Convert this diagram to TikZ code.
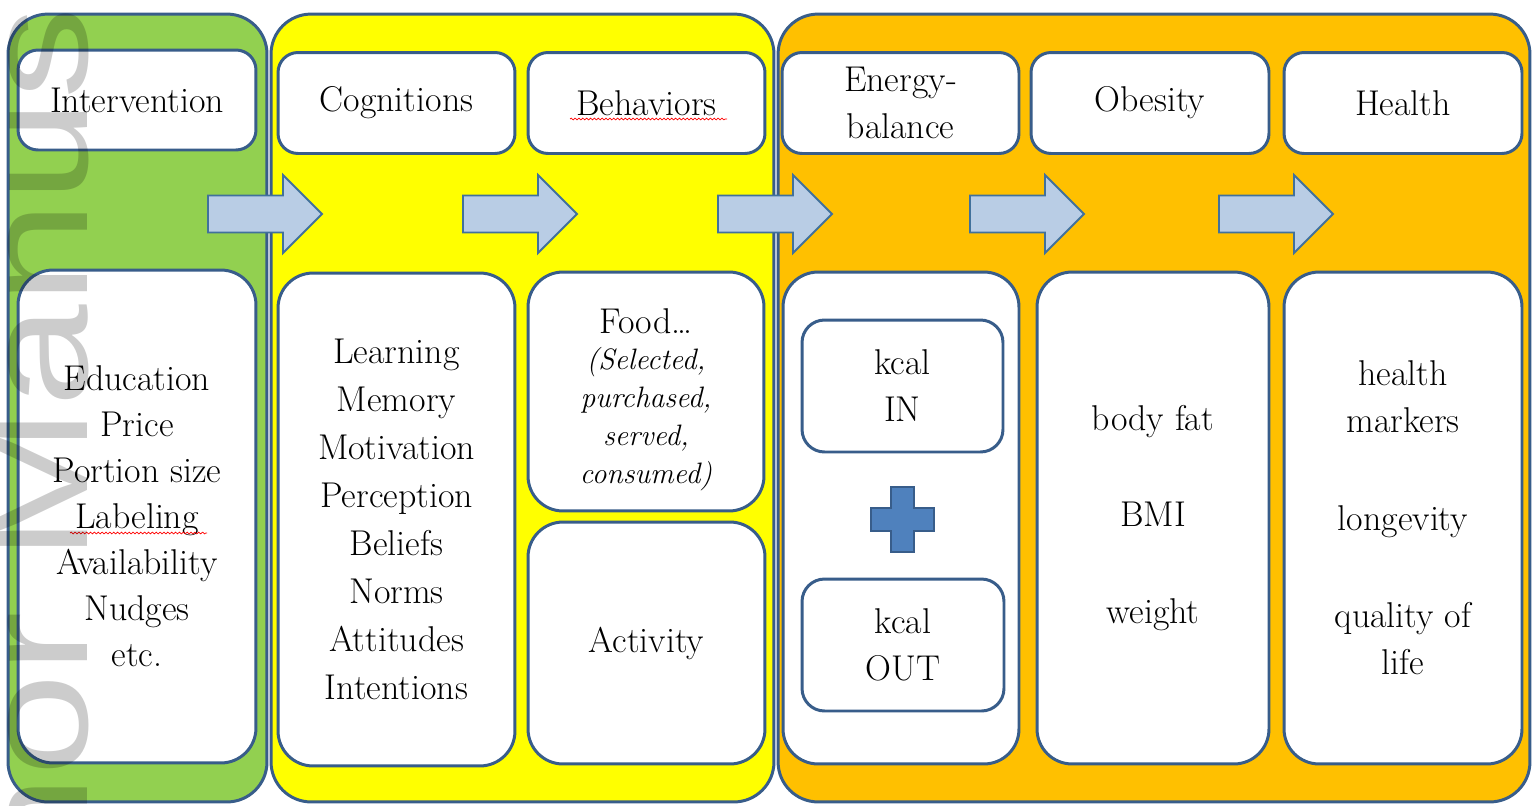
\documentclass[tikz,border=0pt]{standalone}
\usepackage{fontspec}
\setsansfont{Liberation Sans}
\usetikzlibrary{decorations.pathmorphing}

\definecolor{boxline}{RGB}{56,93,138}
\definecolor{arrowline}{RGB}{65,113,156}
\definecolor{arrowfill}{RGB}{185,205,229}
\definecolor{plusfill}{RGB}{79,129,189}
\definecolor{panelgreen}{RGB}{146,208,80}
\definecolor{panelyellow}{RGB}{255,255,0}
\definecolor{panelorange}{RGB}{255,192,0}
\newcommand{\bodysize}{\fontsize{20.4pt}{26.7pt}\selectfont}

\tikzset{
    panel/.style={draw=boxline, line width=1.7pt, rounded corners=0.8cm, minimum height=15.76cm},
    card/.style={draw=boxline, fill=white, line width=1.7pt, rounded corners=0.4cm, align=center, inner sep=0pt, font=\bodysize},
    headcard/.style={card, minimum height=2.02cm},
    listcard/.style={card, rounded corners=0.7cm, minimum height=9.86cm},
    flowarrow/.style={draw=arrowline, fill=arrowfill, line width=1.1pt, line join=miter},
    spellmark/.style={draw=red, line width=0.4pt, decorate, decoration={snake, amplitude=0.5pt, segment length=2.2pt}}
}

\begin{document}
\begin{tikzpicture}[x=0.02cm, y=-0.02cm]
    \useasboundingbox (0,0) rectangle (1533,805);
    %Panels
    \node[panel, fill=panelgreen, minimum width=5.18cm] (greenpanel) at (137.5,408) {};
    \node[panel, fill=panelyellow, minimum width=10.06cm] (yellowpanel) at (522.5,408) {};
    \node[panel, fill=panelorange, minimum width=15.04cm] (orangepanel) at (1154,408) {};
    %Headers
    \node[headcard, minimum width=4.76cm, minimum height=2cm] (intervention) at (137,100) {Intervention};
    \node[headcard, minimum width=4.74cm] (cognitions) at (396.5,103) {Cognitions};
    \node[headcard, minimum width=4.74cm] (behaviors) at (646.5,103) {Behaviors};
    \node[headcard, minimum width=4.74cm] (energy) at (900.5,103) {Energy-\\balance};
    \node[headcard, minimum width=4.76cm] (obesity) at (1150,103) {Obesity};
    \node[headcard, minimum width=4.76cm] (health) at (1403,103) {Health};
    %Lists
    \node[listcard, minimum width=4.76cm, font={\fontsize{20.4pt}{26.2pt}\selectfont}] (measures) at (137,516.5)
        {Education\\Price\\Portion size\\Labeling\\Availability\\Nudges\\etc.};
    \node[listcard, minimum width=4.74cm, font={\fontsize{20.4pt}{27.3pt}\selectfont}] (processes) at (396.5,519.5)
        {Learning\\Memory\\Motivation\\Perception\\Beliefs\\Norms\\Attitudes\\Intentions};
    \node[card, rounded corners=0.7cm, minimum width=4.72cm, minimum height=4.78cm] (food) at (646,391.5) {};
    \node[anchor=base, font=\bodysize, inner sep=0pt] (foodhead) at (646,333) {Food…};
    \node[align=center, inner sep=0pt, font={\fontsize{16.8pt}{21.6pt}\selectfont\itshape}] (foodverbs) at (646,419)
        {(Selected,\\purchased,\\served,\\consumed)};
    \node[card, rounded corners=0.7cm, minimum width=4.74cm, minimum height=4.84cm] (activity) at (646.5,643) {Activity};
    \node[listcard, minimum width=4.72cm, minimum height=9.84cm] (balance) at (901,518) {};
    \node[card, rounded corners=0.45cm, minimum width=4.02cm, minimum height=2.64cm] (kcalin) at (902.5,386) {kcal\\IN};
    \node[card, rounded corners=0.45cm, minimum width=4.04cm, minimum height=2.64cm] (kcalout) at (903,645) {kcal\\OUT};
    \node[listcard, minimum width=4.64cm, minimum height=9.84cm] (adiposity) at (1153,518)
        {body fat\\[0.99cm]BMI\\[0.99cm]weight};
    \node[listcard, minimum width=4.76cm, minimum height=9.84cm] (outcomes) at (1403,518)
        {health\\markers\\[1.02cm]longevity\\[1cm]quality of\\life};
    %Plus
    \draw[draw=boxline, fill=plusfill, line width=1.1pt] (891,487) -- (914,487) -- (914,508) -- (934,508) -- (934,531) -- (914,531)
        -- (914,552) -- (891,552) -- (891,531) -- (871,531) -- (871,508) -- (891,508) -- cycle;
    %Arrows
    \foreach \x in {208,463,718,970,1219}{
        \draw[flowarrow] (\x,195.5) -- (\x+75,195.5) -- (\x+75,175) -- (\x+114,214) -- (\x+75,253) -- (\x+75,232.5) -- (\x,232.5) -- cycle;
    };
    %Spelling marks
    \draw[spellmark] (570,119) -- (727,119);
    \draw[spellmark] (70,533) -- (207,533);
    %Watermark
    \node[rotate=90, anchor=base west, inner sep=0pt, text=black, text opacity=0.2,
        font={\sffamily\fontsize{84pt}{84pt}\selectfont}] (watermark) at (87,1156) {\scalebox{1.25}[1]{Author Manuscript}};
\end{tikzpicture}
\end{document}
